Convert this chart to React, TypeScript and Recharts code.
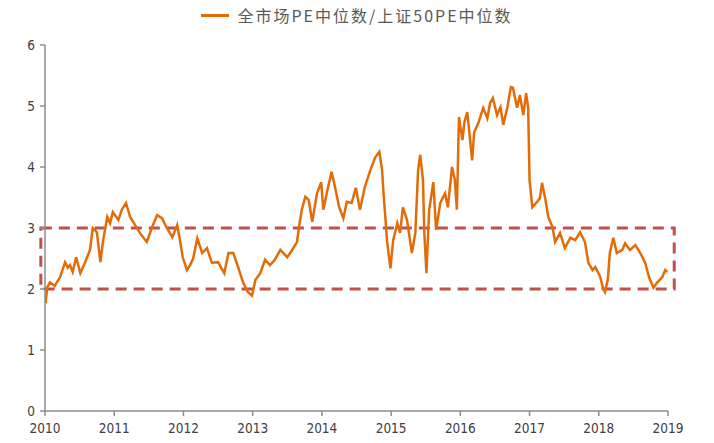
import React from "react";
import {
  LineChart,
  Line,
  XAxis,
  YAxis,
  ReferenceArea,
} from "recharts";

// decimal years
const years = [
  2010.0, 2010.01, 2010.03, 2010.07, 2010.14, 2010.22, 2010.29, 2010.33, 2010.36, 2010.4,
  2010.45, 2010.51, 2010.58, 2010.65, 2010.69, 2010.75, 2010.8, 2010.84, 2010.9, 2010.94,
  2010.98, 2011.06, 2011.11, 2011.17, 2011.23, 2011.3, 2011.37, 2011.47, 2011.55, 2011.62,
  2011.69, 2011.76, 2011.84, 2011.91, 2011.95, 2011.99, 2012.05, 2012.1, 2012.14, 2012.2,
  2012.27, 2012.34, 2012.41, 2012.5, 2012.59, 2012.65, 2012.72, 2012.79, 2012.86, 2012.93,
  2012.99, 2013.04, 2013.11, 2013.18, 2013.25, 2013.32, 2013.4, 2013.5, 2013.57, 2013.64,
  2013.67, 2013.71, 2013.76, 2013.81, 2013.86, 2013.93, 2013.99, 2014.02, 2014.08, 2014.14,
  2014.19, 2014.25, 2014.31, 2014.36, 2014.43, 2014.49, 2014.55, 2014.62, 2014.7, 2014.77,
  2014.83, 2014.87, 2014.89, 2014.92, 2014.94, 2014.99, 2015.03, 2015.09, 2015.13, 2015.17,
  2015.23, 2015.3, 2015.35, 2015.39, 2015.42, 2015.46, 2015.48, 2015.51, 2015.55, 2015.61,
  2015.65, 2015.71, 2015.78, 2015.82, 2015.88, 2015.92, 2015.95, 2015.98, 2016.03, 2016.06,
  2016.1, 2016.13, 2016.17, 2016.2, 2016.26, 2016.33, 2016.39, 2016.43, 2016.47, 2016.53,
  2016.58, 2016.62, 2016.68, 2016.73, 2016.76, 2016.82, 2016.86, 2016.91, 2016.95, 2016.98,
  2017.0, 2017.04, 2017.11, 2017.15, 2017.18, 2017.23, 2017.27, 2017.33, 2017.37, 2017.44,
  2017.51, 2017.59, 2017.66, 2017.73, 2017.8, 2017.85, 2017.91, 2017.95, 2018.02, 2018.06,
  2018.09, 2018.13, 2018.16, 2018.21, 2018.26, 2018.34, 2018.38, 2018.45, 2018.53, 2018.6,
  2018.67, 2018.73, 2018.79, 2018.84, 2018.92, 2018.96, 2018.99,
];

const peRatio = [
  1.8, 1.77, 2.02, 2.11, 2.05, 2.2, 2.44, 2.35, 2.39, 2.28,
  2.52, 2.26, 2.44, 2.64, 3.0, 2.93, 2.44, 2.8, 3.18, 3.08,
  3.26, 3.13, 3.3, 3.41, 3.18, 3.05, 2.92, 2.77, 3.02, 3.21,
  3.16, 3.0, 2.85, 3.05, 2.8, 2.52, 2.31, 2.4, 2.5, 2.83,
  2.59, 2.67, 2.43, 2.44, 2.26, 2.59, 2.59, 2.36, 2.11, 1.95,
  1.89, 2.15, 2.26, 2.48, 2.39, 2.48, 2.64, 2.52, 2.64, 2.77,
  3.02, 3.3, 3.51, 3.46, 3.1, 3.57, 3.75, 3.3, 3.62, 3.92,
  3.67, 3.34, 3.16, 3.43, 3.41, 3.66, 3.3, 3.67, 3.95, 4.16,
  4.25, 3.95, 3.57, 3.13, 2.8, 2.34, 2.8, 3.08, 2.92, 3.34,
  3.13, 2.59, 2.92, 3.95, 4.2, 3.79, 2.92, 2.26, 3.3, 3.75,
  2.97, 3.41, 3.57, 3.34, 4.0, 3.79, 3.3, 4.82, 4.44, 4.74,
  4.9, 4.57, 4.11, 4.57, 4.72, 4.97, 4.8, 5.05, 5.13, 4.85,
  4.98, 4.69, 4.98, 5.31, 5.3, 4.97, 5.18, 4.85, 5.21, 4.97,
  3.79, 3.34, 3.43, 3.49, 3.74, 3.46, 3.18, 3.02, 2.77, 2.92,
  2.67, 2.84, 2.8, 2.93, 2.77, 2.43, 2.31, 2.36, 2.2, 2.02,
  1.95, 2.15, 2.59, 2.84, 2.59, 2.64, 2.75, 2.64, 2.72, 2.59,
  2.43, 2.18, 2.02, 2.1, 2.2, 2.31, 2.28,
];

const xTicks = [2010, 2011, 2012, 2013, 2014, 2015, 2016, 2017, 2018, 2019];
const yTicks = [0, 1, 2, 3, 4, 5, 6];

// dashed box marking the 2-3 range
const bandLow = 2;
const bandHigh = 3;
const bandStart = 2009.94;
const bandEnd = 2019.09;

const seriesName = "全市场PE中位数/上证50PE中位数";

const data = years.map((t, i) => ({ t, pe: peRatio[i] }));

const tickFont = {
  fontSize: 13.5,
  fill: "#404040",
  fontFamily: "'DejaVu Sans Condensed', 'Liberation Sans', sans-serif",
  fontStretch: "condensed",
};

export default function App() {
  return (
    <div style={{ position: "absolute", left: 0, top: 0, width: 714, height: 443, background: "#fff" }}>
      <div
        style={{
          position: "absolute",
          top: 3,
          left: 0,
          width: 714,
          display: "flex",
          justifyContent: "center",
          alignItems: "center",
          fontFamily: "'Noto Sans CJK SC', sans-serif",
          fontSize: 16,
          color: "#595959",
          letterSpacing: 2,
          zIndex: 1,
        }}
      >
        <span style={{ display: "inline-block", width: 28, height: 3, background: "#E36C09", marginRight: 8 }} />
        <span>{seriesName}</span>
      </div>
      <LineChart
        width={714}
        height={443}
        data={data}
        margin={{ top: 45, right: 46, bottom: 0, left: 0 }}
      >
        <XAxis
          dataKey="t"
          type="number"
          domain={[2010, 2019]}
          ticks={xTicks}
          allowDataOverflow
          stroke="#8c8c8c"
          strokeWidth={1.5}
          tickSize={5}
          tick={{ ...tickFont, dy: 5 }}
          height={32}
        />
        <YAxis
          domain={[0, 6]}
          ticks={yTicks}
          stroke="#8c8c8c"
          strokeWidth={1.5}
          tickSize={5}
          tick={{ ...tickFont, dx: -3 }}
          width={45}
        />
        <ReferenceArea
          x1={bandStart}
          x2={bandEnd}
          y1={bandLow}
          y2={bandHigh}
          ifOverflow="visible"
          fill="none"
          stroke="#C0504D"
          strokeWidth={3}
          strokeDasharray="11 7"
        />
        <Line
          type="linear"
          dataKey="pe"
          stroke="#E36C09"
          strokeWidth={2.5}
          dot={false}
          isAnimationActive={false}
        />
      </LineChart>
    </div>
  );
}
